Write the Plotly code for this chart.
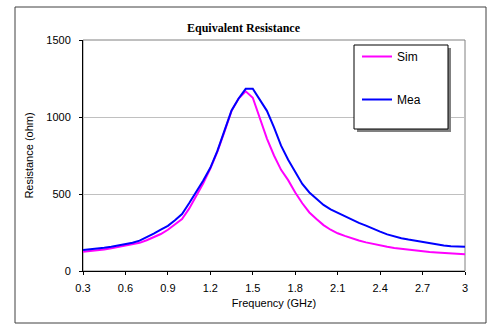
import plotly.graph_objects as go

freq = [0.30, 0.35, 0.40, 0.45, 0.50, 0.55, 0.60, 0.65, 0.70, 0.75,
        0.80, 0.85, 0.90, 0.95, 1.00, 1.05, 1.10, 1.15, 1.20, 1.25,
        1.30, 1.35, 1.40, 1.45, 1.50, 1.55, 1.60, 1.65, 1.70, 1.75,
        1.80, 1.85, 1.90, 1.95, 2.00, 2.05, 2.10, 2.15, 2.20, 2.25,
        2.30, 2.35, 2.40, 2.45, 2.50, 2.55, 2.60, 2.65, 2.70, 2.75,
        2.80, 2.85, 2.90, 2.95, 3.00]
sim = [125, 129, 134, 140, 147, 155, 163, 172, 183, 200,
       220, 240, 268, 300, 338, 405, 486, 570, 665, 775,
       905, 1040, 1120, 1167, 1125, 995, 860, 750, 657, 590,
       510, 440, 380, 338, 298, 268, 245, 228, 212, 198,
       186, 175, 165, 157, 150, 144, 138, 132, 127, 123,
       120, 117, 115, 112, 109]
mea = [137, 141, 146, 151, 158, 166, 174, 184, 197, 218,
       243, 268, 293, 330, 370, 440, 510, 588, 670, 780,
       912, 1043, 1120, 1183, 1183, 1115, 1040, 933, 814, 722,
       643, 565, 510, 468, 429, 400, 378, 355, 333, 312,
       295, 278, 256, 238, 224, 213, 204, 196, 188, 180,
       172, 166, 161, 158, 157]

xtick_vals = [0.3, 0.6, 0.9, 1.2, 1.5, 1.8, 2.1, 2.4, 2.7, 3.0]
xtick_text = ["0.3", "0.6", "0.9", "1.2", "1.5", "1.8", "2.1", "2.4", "2.7", "3"]
ytick_vals = [0, 500, 1000, 1500]

W, H = 487, 324
L, R, T, B = 83, 22, 40, 53
pw, ph = W - L - R, H - T - B

def px(x):
    return (x - L) / pw

def py(y):
    return (H - B - y) / ph

fig = go.Figure()
fig.add_trace(go.Scatter(x=freq, y=sim, mode="lines", name="Sim",
                         line=dict(color="#FF00FF", width=2), legendgroup="a"))
fig.add_trace(go.Scatter(x=freq, y=mea, mode="lines", name="Mea",
                         line=dict(color="#0000FF", width=2), legendgroup="b"))

font = "Liberation Sans, Arial, sans-serif"
fig.update_layout(
    width=W, height=H,
    margin=dict(l=L, r=R, t=T, b=B),
    paper_bgcolor="white", plot_bgcolor="white",
    font=dict(family=font, size=11, color="black"),
    title=dict(text="<b>Equivalent Resistance</b>", x=0.5, xanchor="center",
               y=1 - 28 / H, yanchor="middle",
               font=dict(family="Liberation Serif, Times New Roman, serif", size=12)),
    xaxis=dict(range=[0.3, 3.0], tickvals=xtick_vals, ticktext=xtick_text,
               showgrid=False, zeroline=False, showline=True, linecolor="black",
               linewidth=1, ticks="outside", ticklen=3, tickcolor="black",
               ticklabelstandoff=4,
               title=dict(text="Frequency (GHz)", standoff=6, font=dict(size=11))),
    yaxis=dict(range=[0, 1500], tickvals=ytick_vals, showgrid=True,
               gridcolor="#c0c0c0", gridwidth=1, zeroline=False, showline=True,
               linecolor="black", linewidth=1, ticks="outside", ticklen=3,
               tickcolor="black", ticklabelstandoff=6,
               title=dict(text="Resistance (ohm)", standoff=10, font=dict(size=11))),
    legend=dict(x=px(357), y=py(42), xanchor="left", yanchor="top",
                bgcolor="rgba(0,0,0,0)", borderwidth=0, tracegroupgap=24,
                font=dict(size=12)),
    shapes=[
        dict(type="rect", xref="paper", yref="paper", x0=px(15), x1=px(486),
             y0=py(323), y1=py(7), line=dict(color="#404040", width=1), layer="below"),
        dict(type="rect", xref="paper", yref="paper", x0=0, x1=1, y0=0, y1=1,
             line=dict(color="#808080", width=1), layer="below"),
        dict(type="rect", xref="paper", yref="paper", x0=px(357), x1=px(451),
             y0=py(132), y1=py(48), fillcolor="#808080",
             line=dict(color="#808080", width=0), layer="above"),
        dict(type="rect", xref="paper", yref="paper", x0=px(354), x1=px(448),
             y0=py(129), y1=py(45), fillcolor="white",
             line=dict(color="black", width=1), layer="above"),
    ],
)

fig.write_html("out.html")
